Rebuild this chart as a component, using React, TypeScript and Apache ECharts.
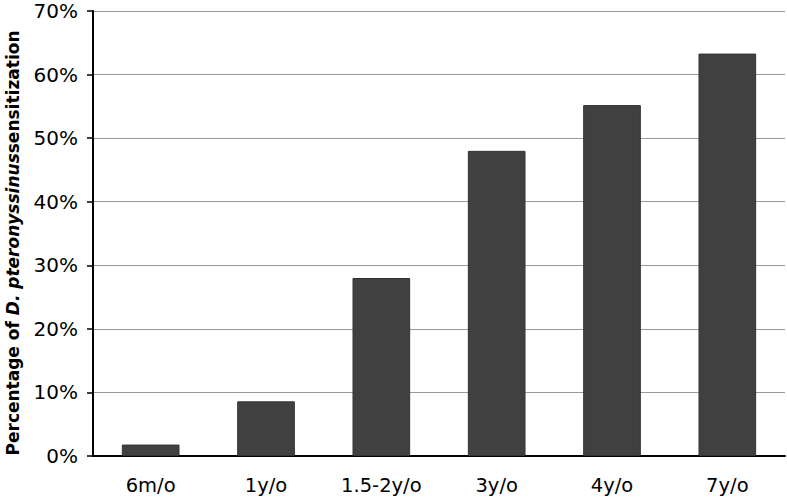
import React, { useEffect, useRef } from "react";
import * as echarts from "echarts";

const categories = ["6m/o", "1y/o", "1.5-2y/o", "3y/o", "4y/o", "7y/o"];
const values = [1.8, 8.6, 28.0, 48.0, 55.2, 63.3];

const FONT = "DejaVu Sans, Liberation Sans, Arial, sans-serif";

export default function App() {
  const ref = useRef<HTMLDivElement>(null);
  useEffect(() => {
    const chart = echarts.init(ref.current!, undefined, { renderer: "svg" });
    chart.setOption({
      animation: false,
      backgroundColor: "#ffffff",
      grid: { left: 93, right: 2, top: 11, bottom: 44, containLabel: false },
      graphic: [
        {
          type: "text",
          x: 13,
          y: 243,
          rotation: Math.PI / 2,
          style: {
            text: "{a|Percentage of }{b|D. pteronyssinus}{a|sensitization}",
            align: "center",
            verticalAlign: "middle",
            rich: {
              a: { fontSize: 17, fontWeight: "bold", fill: "#000", fontFamily: FONT },
              b: { fontSize: 17, fontWeight: "bold", fontStyle: "italic", fill: "#000", fontFamily: FONT },
            },
          },
        },
      ],
      xAxis: {
        type: "category",
        data: categories,
        axisLine: { lineStyle: { color: "#000", width: 2 } },
        axisTick: { show: false },
        axisLabel: {
          color: "#000",
          fontSize: 19.5,
          fontFamily: FONT,
          margin: 19,
        },
      },
      yAxis: {
        type: "value",
        min: 0,
        max: 70,
        interval: 10,
        axisLine: { show: true, lineStyle: { color: "#000", width: 2 } },
        axisTick: { show: true, length: 6, lineStyle: { color: "#000", width: 1.5 } },
        axisLabel: {
          formatter: "{value}%",
          color: "#000",
          fontSize: 20,
          fontFamily: FONT,
          margin: 15,
        },
        splitLine: { lineStyle: { color: "#9a9a9a", width: 1 } },
      },
      series: [
        {
          type: "bar",
          data: values,
          barWidth: "50%",
          itemStyle: { color: "#404040", borderColor: "#333", borderWidth: 1 },
        },
      ],
    });
    return () => chart.dispose();
  }, []);
  return <div ref={ref} style={{ width: 787, height: 500, position: "absolute", left: 0, top: 0 }} />;
}
